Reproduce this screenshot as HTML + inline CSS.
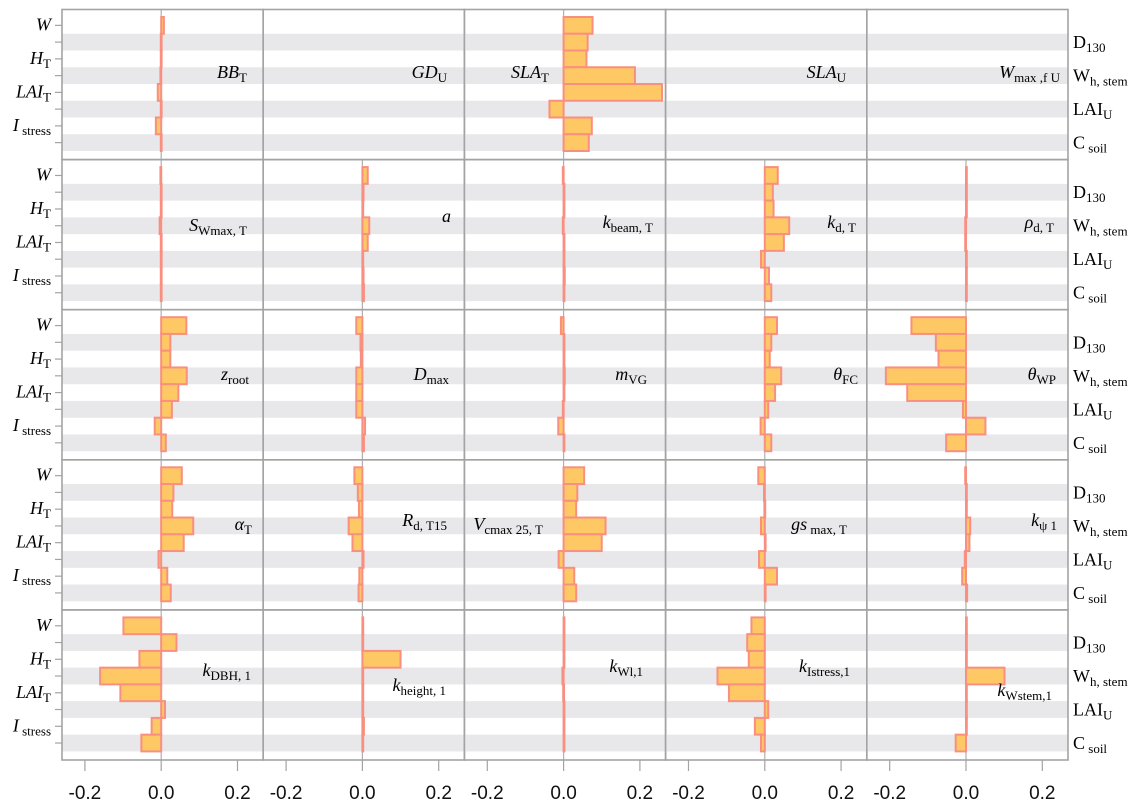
<!DOCTYPE html>
<html><head><meta charset="utf-8"><style>
html,body{margin:0;padding:0;background:#fff;}
svg{display:block;}
</style></head><body>
<svg id="chart" width="1139" height="810" xmlns="http://www.w3.org/2000/svg" font-family="Liberation Serif, serif"></svg>
<script>
const outputs = ["W","D130","HT","Wh_stem","LAIT","LAIU","Istress","Csoil"];
const xTicks = [-0.2, 0.0, 0.2];
const xTickLabels = ["-0.2","0.0","0.2"];
// per-panel values (row-major, 5x5), order of outputs above; null = no data
const vBBT      = [0.007,-0.001,-0.001,-0.002,-0.009,-0.001,-0.014,-0.001];
const vGDU      = null;
const vSLAT     = [0.076,0.063,0.06,0.187,0.258,-0.037,0.074,0.066];
const vSLAU     = null;
const vWmaxfU   = null;
const vSWmax    = [-0.002,-0.001,-0.001,-0.004,-0.001,-0.001,-0.001,-0.001];
const vA        = [0.014,0.003,0.002,0.018,0.014,0.001,0.003,0.004];
const vKbeam    = [-0.002,0,0,-0.002,0,0,0.003,0];
const vKd       = [0.034,0.021,0.023,0.064,0.05,-0.01,0.011,0.017];
const vRhod     = [0,0,0,-0.002,-0.002,0,0,0];
const vZroot    = [0.066,0.024,0.024,0.067,0.045,0.028,-0.017,0.012];
const vDmax     = [-0.016,-0.005,-0.004,-0.016,-0.016,-0.016,0.007,0.004];
const vMVG      = [-0.007,0,0,0.003,0.002,-0.002,-0.014,0];
const vThetaFC  = [0.032,0.017,0.013,0.043,0.027,0.009,-0.011,0.017];
const vThetaWP  = [-0.143,-0.079,-0.072,-0.21,-0.154,-0.008,0.051,-0.052];
const vAlphaT   = [0.054,0.032,0.029,0.084,0.059,-0.007,0.016,0.025];
const vRd       = [-0.021,-0.012,-0.009,-0.036,-0.026,0.003,-0.008,-0.01];
const vVcmax    = [0.054,0.036,0.033,0.11,0.1,-0.013,0.028,0.033];
const vGs       = [-0.017,-0.002,-0.001,-0.01,0.002,-0.015,0.032,0];
const vKpsi     = [-0.002,0.002,0.002,0.011,0.009,-0.003,-0.01,0.003];
const vKDBH     = [-0.099,0.04,-0.057,-0.16,-0.107,0.01,-0.025,-0.052];
const vKheight  = [0,0,0.1,0,0,0,0.004,0];
const vKWl      = [0,0,0,-0.003,-0.001,0,0,0];
const vKIstress = [-0.035,-0.046,-0.042,-0.124,-0.094,0.009,-0.026,-0.01];
const vKWstem   = [0,0,0,0.101,0,0,0,-0.027];

const panelData = [vBBT,vGDU,vSLAT,vSLAU,vWmaxfU,vSWmax,vA,vKbeam,vKd,vRhod,vZroot,vDmax,vMVG,vThetaFC,vThetaWP,vAlphaT,vRd,vVcmax,vGs,vKpsi,vKDBH,vKheight,vKWl,vKIstress,vKWstem];
const panelLabels = [
 ["BB","T",247,78],["GD","U",447,78],["SLA","T",549,78],["SLA","U",846,78],["W","max ,f U",1060,78],
 ["S","Wmax, T",247,231],["a","",451,222],["k","beam, T",653,228],["k","d, T",856,228],["ρ","d, T",1054,228],
 ["z","root",249,380],["D","max",449,380],["m","VG",647,380],["θ","FC",858,380],["θ","WP",1056,380],
 ["α","T",252,530],["R","d, T15",447,526],["V","cmax 25, T",543,530],["gs"," max, T",847,530],["k","ψ 1",1057,526],
 ["k","DBH, 1",251,676],["k","height, 1",446,691],["k","Wl,1",643,672],["k","Istress,1",850,672],["k","Wstem,1",1052,696]
];
const NS="http://www.w3.org/2000/svg";
const svg=document.getElementById('chart');
const X0=62, PW=201.2, Y0=9.5, PH=150.1, PAD=7.5, RH=16.75, XMIN=-0.26, SCALE=381.5;
function xs(c,v){return X0+c*PW+(v-XMIN)*SCALE;}
function ys(r,i){return Y0+r*PH+PAD+i*RH;}
function mk(tag,attrs,parent){const e=document.createElementNS(NS,tag);for(const k in attrs)e.setAttribute(k,attrs[k]);(parent||svg).appendChild(e);return e;}

for(let r=0;r<5;r++){for(let c=0;c<5;c++){
  const idx=r*5+c;
  const g=mk('g',{});
  
  
  const px=X0+c*PW, py=Y0+r*PH;
  for(let i=1;i<8;i+=2){
    const b=mk('rect',{x:px,y:ys(r,i),width:PW,height:RH,fill:'#e8e7ea'},g);
    
    
  }
  const d=panelData[idx];
  if(d){
    const zl=mk('line',{x1:xs(c,0),x2:xs(c,0),y1:py,y2:py+PH,stroke:'#b0b0b0','stroke-width':1.2},g);
    
    
    d.forEach((v,i)=>{
      const x1=Math.min(xs(c,0),xs(c,v)), w=Math.max(Math.abs(xs(c,v)-xs(c,0)),0.8);
      const bar=mk('rect',{x:x1,y:ys(r,i),width:w,height:RH,fill:'#fec964',stroke:'#f98f80','stroke-width':2},g);
      
      
    });
  }
  const br=mk('rect',{x:px,y:py,width:PW,height:PH,fill:'none',stroke:'#a3a3a3','stroke-width':1.6},g);
  
  
  const L=panelLabels[idx];
  const t=mk('text',{x:L[2],y:L[3],'text-anchor':'end','font-size':18,fill:'#000'},g);
  
  
  const t1=mk('tspan',{'font-style':'italic'},t);t1.textContent=L[0];
  if(L[1]){const t2=mk('tspan',{'font-size':13,dy:4},t);t2.textContent=L[1];}
}}
const leftLab=[["W",""],["H","T"],["LAI","T"],["I"," stress"]];
for(let r=0;r<5;r++){
  for(let i=0;i<8;i++){const yc=ys(r,i)+RH/2;
    const tk=mk('line',{x1:55,x2:62,y1:yc,y2:yc,stroke:'#a3a3a3','stroke-width':1.2});
    
    
  }
  leftLab.forEach((L,k)=>{const yc=ys(r,k*2)+RH/2+5;
    const t=mk('text',{x:51,y:yc,'text-anchor':'end','font-size':18});
    
    
    const a=mk('tspan',{'font-style':'italic'},t);a.textContent=L[0];
    if(L[1]){const b=mk('tspan',{'font-size':13,dy:4},t);b.textContent=L[1];}
  });
  const rightLab=[["D","130"],["W","h, stem"],["LAI","U"],["C"," soil"]];
  rightLab.forEach((L,k)=>{const yc=ys(r,k*2+1)+RH/2+6;
    const t=mk('text',{x:1073,y:yc,'font-size':18});
    
    
    const a=mk('tspan',{},t);a.textContent=L[0];
    const b=mk('tspan',{'font-size':13,dy:4},t);b.textContent=L[1];
  });
}
const yb=Y0+5*PH;
for(let c=0;c<5;c++){
  xTicks.forEach((v,k)=>{
    const tk=mk('line',{x1:xs(c,v),x2:xs(c,v),y1:yb,y2:yb+11,stroke:'#a3a3a3','stroke-width':1.2});
    
    
    const t=mk('text',{x:xs(c,v),y:yb+39,'text-anchor':'middle','font-size':19,'font-family':'Liberation Sans, sans-serif',fill:'#111'});
    
    
    t.textContent=xTickLabels[k];
  });
}
</script>
</body></html>
